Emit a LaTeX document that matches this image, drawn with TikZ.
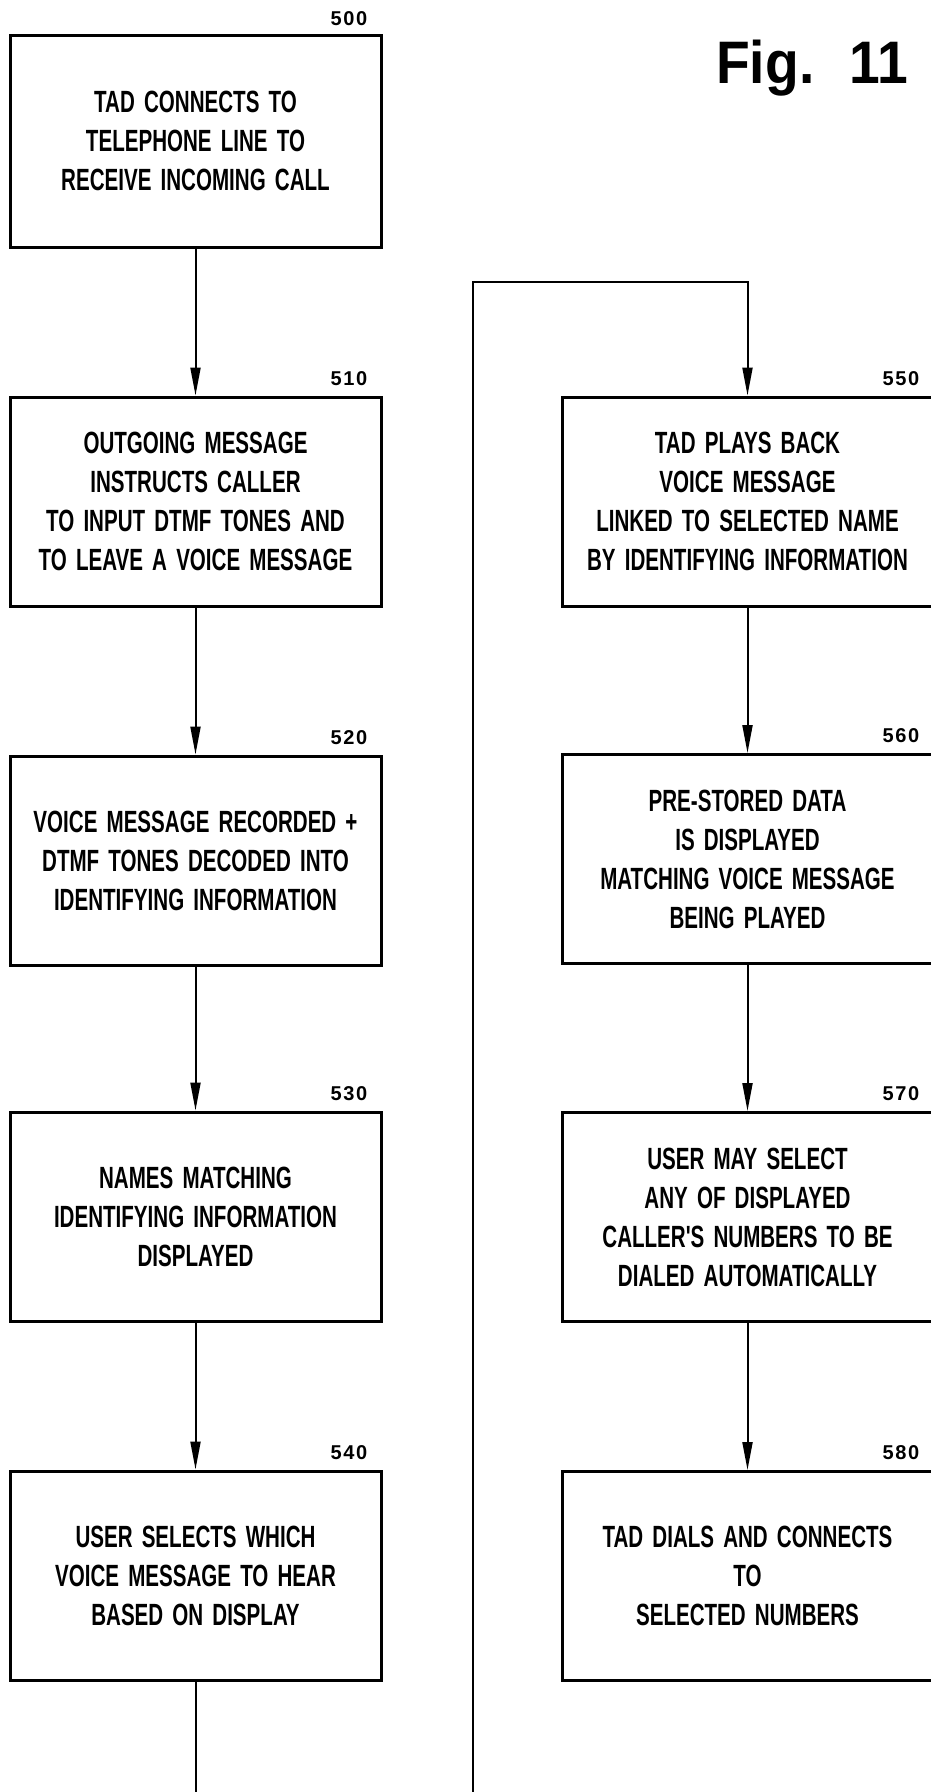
\documentclass[tikz,border=0pt]{standalone}
\usepackage{fontspec}
\setmainfont{Liberation Sans}
\newfontfamily\boxfont[FakeStretch=0.67,WordSpace=1.6]{Liberation Sans}
\newfontfamily\lblfont[LetterSpace=8]{Liberation Sans}
\newfontfamily\figfont[FakeStretch=0.92]{Liberation Sans}
\usetikzlibrary{arrows.meta}
\begin{document}
\begin{tikzpicture}[x=1pt,y=1pt,
  stepbox/.style={draw, line width=3pt, minimum width=371pt, minimum height=209pt,
    inner sep=0pt, align=center, font=\boxfont\bfseries\fontsize{30.7}{39}\selectfont},
  lbl/.style={anchor=south east, inner sep=0pt, font=\lblfont\bfseries\fontsize{20}{22}\selectfont},
  conn/.style={line width=2pt},
  arr/.style={conn, -{Triangle[length=28pt,width=10pt]}}]
\useasboundingbox (0,0) rectangle (930,-1792);

\node[anchor=base west, inner sep=0pt, font=\figfont\bfseries\fontsize{60}{66}\selectfont] (fig) at (716,-83) {Fig.\hspace{35pt}11};

% left column
\node[stepbox, minimum height=212pt] (b500) at (195.5,-141) {TAD CONNECTS TO\\TELEPHONE LINE TO\\RECEIVE INCOMING CALL};
\node[stepbox] (b510) at (195.5,-501.5) {OUTGOING MESSAGE\\INSTRUCTS CALLER\\TO INPUT DTMF TONES AND\\TO LEAVE A VOICE MESSAGE};
\node[stepbox] (b520) at (195.5,-860.5) {VOICE MESSAGE RECORDED +\\DTMF TONES DECODED INTO\\IDENTIFYING INFORMATION};
\node[stepbox] (b530) at (195.5,-1216.5) {NAMES MATCHING\\IDENTIFYING INFORMATION\\DISPLAYED};
\node[stepbox] (b540) at (195.5,-1575.5) {USER SELECTS WHICH\\VOICE MESSAGE TO HEAR\\BASED ON DISPLAY};

% right column
\node[stepbox] (b550) at (747.5,-501.5) {TAD PLAYS BACK\\VOICE MESSAGE\\LINKED TO SELECTED NAME\\BY IDENTIFYING INFORMATION};
\node[stepbox] (b560) at (747.5,-859) {PRE-STORED DATA\\IS DISPLAYED\\MATCHING VOICE MESSAGE\\BEING PLAYED};
\node[stepbox] (b570) at (747.5,-1217) {USER MAY SELECT\\ANY OF DISPLAYED\\CALLER'S NUMBERS TO BE\\DIALED AUTOMATICALLY};
\node[stepbox] (b580) at (747.5,-1576) {TAD DIALS AND CONNECTS\\TO\\SELECTED NUMBERS};

% reference labels
\node[lbl] (l500) at ([shift={(-15,8)}]b500.north east) {500};
\node[lbl] (l510) at ([shift={(-15,10)}]b510.north east) {510};
\node[lbl] (l520) at ([shift={(-15,10)}]b520.north east) {520};
\node[lbl] (l530) at ([shift={(-15,10)}]b530.north east) {530};
\node[lbl] (l540) at ([shift={(-15,10)}]b540.north east) {540};
\node[lbl] (l550) at ([shift={(-15,10)}]b550.north east) {550};
\node[lbl] (l560) at ([shift={(-15,10)}]b560.north east) {560};
\node[lbl] (l570) at ([shift={(-15,10)}]b570.north east) {570};
\node[lbl] (l580) at ([shift={(-15,10)}]b580.north east) {580};

% connectors
\draw[arr] (b500.south) -- (b510.north);
\draw[arr] (b510.south) -- (b520.north);
\draw[arr] (b520.south) -- (b530.north);
\draw[arr] (b530.south) -- (b540.north);
\draw[arr] (b550.south) -- (b560.north);
\draw[arr] (b560.south) -- (b570.north);
\draw[arr] (b570.south) -- (b580.north);

\coordinate (e1) at (195.5,-1792);
\draw[conn] (b540.south) -- (e1);
\coordinate (e2) at (473,-1792);
\coordinate (lt) at (473,-282);
\draw[arr] (e2) -- (lt) -| (b550.north);
\end{tikzpicture}
\end{document}
